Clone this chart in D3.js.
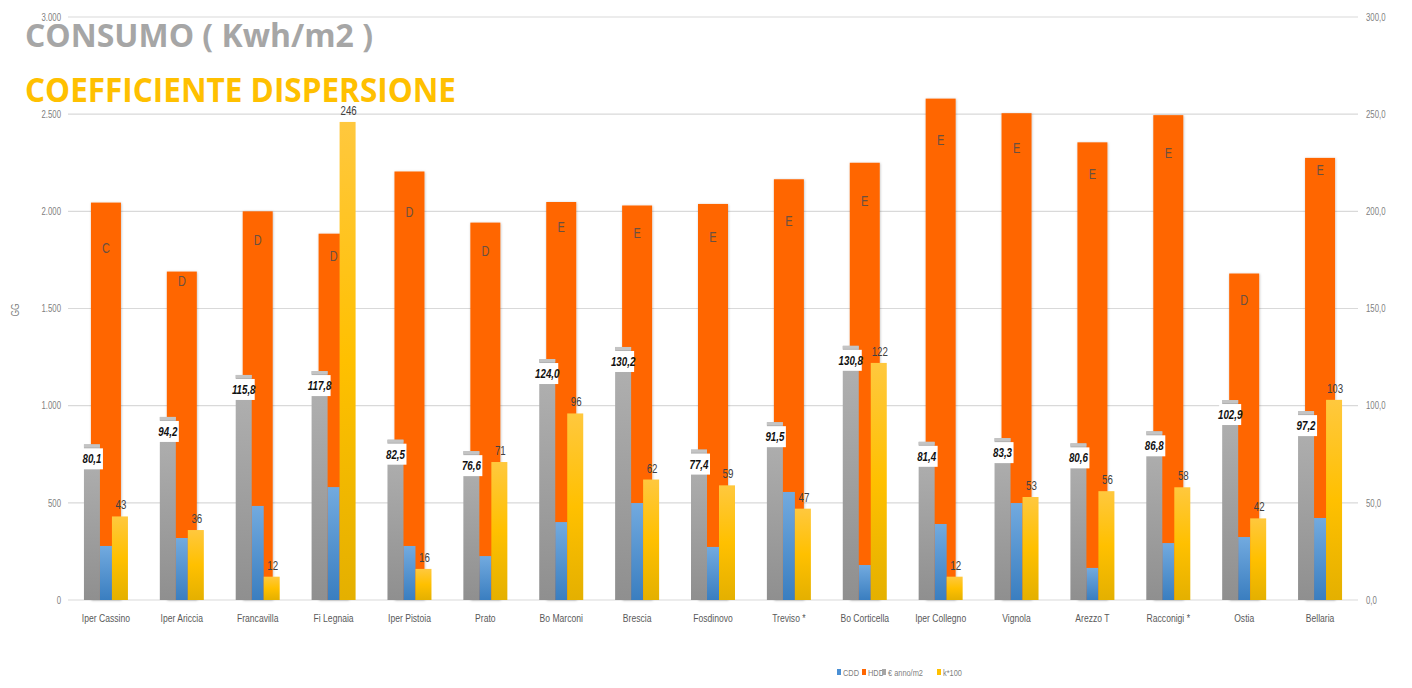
<!DOCTYPE html>
<html><head><meta charset="utf-8">
<script src="https://cdn.jsdelivr.net/npm/d3@7"></script>
<style>
html,body{margin:0;padding:0;background:#fff;}
svg{display:block;}
</style></head>
<body>
<svg id="chart" width="1412" height="688"></svg>
<script>
const categories = ["Iper Cassino","Iper Ariccia","Francavilla","Fi Legnaia","Iper Pistoia","Prato","Bo Marconi","Brescia","Fosdinovo","Treviso  *","Bo Corticella","Iper Collegno","Vignola","Arezzo T","Racconigi *","Ostia","Bellaria"];
const cdd  = [278,319,484,581,278,226,401,499,273,556,180,391,499,165,293,324,422];
const hdd  = [2045,1690,2000,1885,2205,1942,2048,2030,2038,2165,2250,2580,2505,2355,2495,1680,2275];
const euroAnnoM2 = [80.1,94.2,115.8,117.8,82.5,76.6,124.0,130.2,77.4,91.5,130.8,81.4,83.3,80.6,86.8,102.9,97.2];
const k100 = [43,36,12,246,16,71,96,62,59,47,122,12,53,56,58,42,103];
const zone = ["C","D","D","D","D","D","E","E","E","E","E","E","E","E","E","D","E"];
const zoneLabelAt = [1811,1642,1852,1770,1997,1796,1919,1888,1868,1950,2053,2367,2326,2192,2300,1544,2213];
const leftTicks = [0,500,1000,1500,2000,2500,3000];
const rightTicks = [0,50,100,150,200,250,300];
const legendItems = [["CDD","#4a8fd4"],["HDD","#ff6600"],["€ anno/m2","#a6a6a6"],["k*100","#ffc000"]];

const svg = d3.select("#chart");
const font = "'Liberation Sans',Arial,sans-serif";
const SX = 0.78; // horizontal squeeze to mimic a narrow face
const x0 = 68, x1 = 1358, yTop = 17, yBot = 600;
const x = d3.scaleBand().domain(categories).range([x0,x1]).paddingInner(0).paddingOuter(0);
const yL = d3.scaleLinear().domain([0,3000]).range([yBot,yTop]);
const yR = d3.scaleLinear().domain([0,300]).range([yBot,yTop]);

function ntext(sel, px, py, anchor){
  return sel.append("text")
    .attr("transform",(d,i)=>`translate(${px(d,i)},${py(d,i)}) scale(${SX},1)`)
    .attr("text-anchor",anchor).attr("font-family",font);
}

const defs = svg.append("defs");
function grad(id, stops){
  const g = defs.append("linearGradient").attr("id",id).attr("x1",0).attr("y1",0).attr("x2",0).attr("y2",1);
  stops.forEach(s=>g.append("stop").attr("offset",s[0]).attr("stop-color",s[1]));
}
grad("gGray",[[0,"#b2b2b2"],[1,"#8f8f8f"]]);
grad("gBlue",[[0,"#72aadf"],[1,"#3a7ec0"]]);
grad("gYel",[[0,"#ffc83e"],[0.5,"#ffc000"],[1,"#e4b000"]]);
const f = defs.append("filter").attr("id","sh").attr("x","-20%").attr("y","-20%").attr("width","140%").attr("height","140%");
f.append("feDropShadow").attr("dx",0.5).attr("dy",0.5).attr("stdDeviation",0.8).attr("flood-color","#000").attr("flood-opacity",0.25);

// gridlines
svg.append("g").selectAll("line").data(leftTicks).join("line")
  .attr("x1",x0).attr("x2",x1).attr("y1",d=>yL(d)).attr("y2",d=>yL(d))
  .attr("stroke","#d9d9d9").attr("stroke-width",1.2);

// left axis
const axL = svg.append("g").attr("transform",`translate(${x0-7},0)`)
  .call(d3.axisLeft(yL).tickValues(leftTicks).tickSize(0).tickFormat(d=>d===0?"0":d3.format(",")(d).replace(/,/g,".")));
axL.select(".domain").remove();
axL.selectAll(".tick text").attr("x",0).attr("font-family",font).attr("font-size",10).attr("fill","#808080")
  .attr("transform",`scale(${SX},1)`);
// right axis
const axR = svg.append("g").attr("transform",`translate(${x1+8},0)`)
  .call(d3.axisRight(yR).tickValues(rightTicks).tickSize(0).tickFormat(d=>d3.format(".1f")(d).replace(".",",")));
axR.select(".domain").remove();
axR.selectAll(".tick text").attr("x",0).attr("font-family",font).attr("font-size",10).attr("fill","#808080")
  .attr("transform",`scale(${SX},1)`);

svg.append("text").attr("transform","translate(19,310) rotate(-90) scale(0.85,1)").attr("text-anchor","middle")
  .attr("font-family",font).attr("font-size",10).attr("fill","#808080").text("GG");

const bw = x.bandwidth();
const c = d => x(d) + bw/2;
const g = svg.append("g");
// HDD (wide, behind)
g.selectAll(".hdd").data(categories).join("rect").attr("class","hdd")
  .attr("x",d=>c(d)-15).attr("width",30)
  .attr("y",(d,i)=>yL(hdd[i])).attr("height",(d,i)=>yBot-yL(hdd[i]))
  .attr("fill","#ff6600").attr("filter","url(#sh)");
// zone letters
ntext(g.selectAll(".zone").data(categories).join("g"), d=>c(d), (d,i)=>yL(zoneLabelAt[i])+5, "middle")
  .attr("font-size",14).attr("fill","#6a5040").text((d,i)=>zone[i]);
// gray €/m2
g.selectAll(".eur").data(categories).join("rect")
  .attr("x",d=>c(d)-22).attr("width",16)
  .attr("y",(d,i)=>yR(euroAnnoM2[i])).attr("height",(d,i)=>yBot-yR(euroAnnoM2[i]))
  .attr("fill","url(#gGray)");
g.selectAll(".eurcap").data(categories).join("rect")
  .attr("x",d=>c(d)-22).attr("width",16)
  .attr("y",(d,i)=>yR(euroAnnoM2[i])).attr("height",3)
  .attr("fill","#c4c4c4");
// CDD blue
g.selectAll(".cdd").data(categories).join("rect")
  .attr("x",d=>c(d)-6).attr("width",12)
  .attr("y",(d,i)=>yL(cdd[i])).attr("height",(d,i)=>yBot-yL(cdd[i]))
  .attr("fill","url(#gBlue)");
// k*100 yellow
g.selectAll(".k").data(categories).join("rect")
  .attr("x",d=>c(d)+6).attr("width",16)
  .attr("y",(d,i)=>yR(k100[i])).attr("height",(d,i)=>yBot-yR(k100[i]))
  .attr("fill","url(#gYel)");
// k labels
ntext(g.selectAll(".kl").data(categories).join("g"), d=>c(d)+15, (d,i)=>yR(k100[i])-7, "middle")
  .attr("font-size",12.5).attr("fill","#404040").text((d,i)=>k100[i]);
// gray labels with white boxes
const gl = g.selectAll(".gl").data(categories).join("g")
  .attr("transform",(d,i)=>`translate(${c(d)-14},${yR(euroAnnoM2[i])+4})`);
gl.append("rect").attr("x",-11).attr("y",0).attr("width",22).attr("height",21).attr("fill","#fff");
gl.append("text").attr("transform",`translate(0,15) scale(${SX},1)`).attr("text-anchor","middle")
  .attr("font-family",font).attr("font-size",12.5).attr("font-weight","bold").attr("font-style","italic")
  .attr("fill","#111").text((d,i)=>euroAnnoM2[i].toFixed(1).replace(".",","));

// x labels
ntext(svg.append("g").selectAll("g").data(categories).join("g"), d=>c(d), ()=>622, "middle")
  .attr("font-size",11).attr("fill","#595959").text(d=>d);

// legend
const lx = [837,862,882,937];
const lg = svg.append("g").selectAll("g").data(legendItems).join("g")
  .attr("transform",(d,i)=>`translate(${lx[i]},672)`);
lg.append("rect").attr("x",0).attr("y",-3).attr("width",4).attr("height",6).attr("fill",d=>d[1]);
lg.append("text").attr("transform",`translate(6,3.5) scale(${SX},1)`).attr("font-family",font).attr("font-size",9.5)
  .attr("fill","#808080").text(d=>d[0]);

// titles
svg.append("text").attr("x",25).attr("y",47).attr("font-family","'Open Sans',sans-serif").attr("font-weight","bold")
  .attr("font-size",32).attr("fill","#a6a6a6").attr("textLength",348).attr("lengthAdjust","spacingAndGlyphs")
  .text("CONSUMO ( Kwh/m2 )");
svg.append("text").attr("x",25).attr("y",102).attr("font-family","'Open Sans',sans-serif").attr("font-weight","bold")
  .attr("font-size",34).attr("fill","#ffc000").attr("textLength",431).attr("lengthAdjust","spacingAndGlyphs")
  .text("COEFFICIENTE DISPERSIONE");
</script>
</body></html>
